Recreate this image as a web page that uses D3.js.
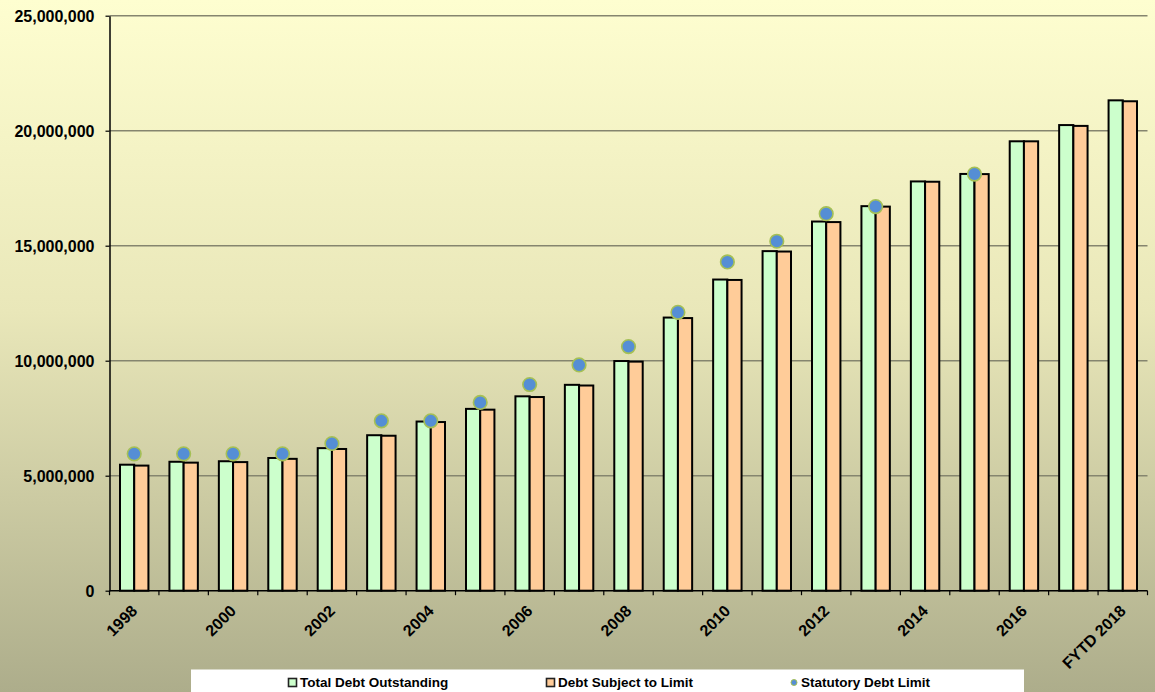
<!DOCTYPE html>
<html>
<head>
<meta charset="utf-8">
<script src="https://cdn.jsdelivr.net/npm/d3@7"></script>
<style>
  html, body { margin: 0; padding: 0; background: #fff; }
  svg { display: block; }
  text { font-family: "Liberation Sans", Arial, sans-serif; font-weight: bold; fill: #000; }
</style>
</head>
<body>
<svg id="chart" width="1155" height="692"></svg>
<script>
// ---- data (millions of dollars) ----
const categories = ["1998","1999","2000","2001","2002","2003","2004","2005","2006","2007",
  "2008","2009","2010","2011","2012","2013","2014","2015","2016","2017","FYTD 2018"];
const totalDebt = [5478189, 5605523, 5628700, 5769881, 6198401, 6760014, 7354657, 7905300,
  8451350, 8950744, 9986082, 11875851, 13528807, 14764222, 16050921, 16719434, 17794483,
  18120106, 19539450, 20244900, 21320000];
const subjectDebt = [5439447, 5567694, 5591625, 5732802, 6161431, 6737553, 7333350, 7871040,
  8420278, 8921343, 9959953, 11853313, 13510832, 14746567, 16027045, 16699396, 17781107,
  18112975, 19538462, 20208637, 21280000];
const statutoryLimit = [5950000, 5950000, 5950000, 5950000, 6400000, 7384000, 7384000, 8184000,
  8965000, 9815000, 10615000, 12104000, 14294000, 15194000, 16394000, 16699396, null,
  18113000, null, null, null];
const yTicks = [0, 5000000, 10000000, 15000000, 20000000, 25000000];
const seriesNames = ["Total Debt Outstanding", "Debt Subject to Limit", "Statutory Debt Limit"];

const W = 1155, H = 692;
const mLeft = 109.5, mRight = 1147.5, mTop = 15.7, mBottom = 590.7;

const svg = d3.select("#chart");
const defs = svg.append("defs");
const grad = defs.append("linearGradient").attr("id","bg").attr("x1",0).attr("y1",0).attr("x2",0).attr("y2",1);
grad.append("stop").attr("offset","0%").attr("stop-color","#FEFED0");
grad.append("stop").attr("offset","45%").attr("stop-color","#E9E7B9");
grad.append("stop").attr("offset","100%").attr("stop-color","#ADAD8B");
svg.append("rect").attr("width",W).attr("height",H).attr("fill","url(#bg)");

const x0 = d3.scaleBand().domain(categories).range([mLeft, mRight]).padding(0);
const bw = x0.bandwidth();
const x1 = d3.scaleBand().domain(["total","subject"]).range([bw*0.2125, bw*0.7875]).padding(0);
const y = d3.scaleLinear().domain([0, 25000000]).range([mBottom, mTop]);

// gridlines
svg.append("g").selectAll("line").data(yTicks.filter(d => d > 0)).join("line")
  .attr("x1", mLeft).attr("x2", mRight)
  .attr("y1", d => y(d)).attr("y2", d => y(d))
  .attr("stroke", "#85856f").attr("stroke-width", 1.5);

// bars
const groups = svg.append("g").selectAll("g").data(categories).join("g")
  .attr("transform", c => `translate(${x0(c)},0)`);
groups.append("rect")
  .attr("x", x1("total")).attr("width", x1.bandwidth())
  .attr("y", (c,i) => y(totalDebt[i])).attr("height", (c,i) => y(0) - y(totalDebt[i]))
  .attr("fill", "#CCFFCC").attr("stroke", "#000").attr("stroke-width", 2);
groups.append("rect")
  .attr("x", x1("subject")).attr("width", x1.bandwidth())
  .attr("y", (c,i) => y(subjectDebt[i])).attr("height", (c,i) => y(0) - y(subjectDebt[i]))
  .attr("fill", "#FFCC99").attr("stroke", "#000").attr("stroke-width", 2);

// dots
const dotData = categories.map((c,i) => ({c, v: statutoryLimit[i]})).filter(d => d.v != null);
svg.append("g").selectAll("circle").data(dotData).join("circle")
  .attr("cx", d => x0(d.c) + bw/2).attr("cy", d => y(d.v)).attr("r", 6.8)
  .attr("fill", "#558ED5").attr("stroke", "#A5C055").attr("stroke-width", 1.6);

// y axis
const yAxis = svg.append("g").attr("transform", `translate(${mLeft},0)`)
  .call(d3.axisLeft(y).tickValues(yTicks).tickFormat(d3.format(",")).tickSize(4).tickPadding(11).tickSizeOuter(0));
yAxis.select(".domain").attr("stroke", "#000").attr("stroke-width", 1.5);
yAxis.selectAll(".tick line").attr("stroke", "#000").attr("stroke-width", 1.2);
yAxis.selectAll(".tick text").attr("font-size", 16).attr("font-family", "Liberation Sans, Arial, sans-serif").attr("font-weight", "bold").attr("fill","#000").attr("dy","0.36em");

// x axis
const xg = svg.append("g");
xg.append("line").attr("x1", mLeft).attr("x2", mRight).attr("y1", mBottom).attr("y2", mBottom)
  .attr("stroke", "#000").attr("stroke-width", 1.5);
const boundaries = categories.map(c => x0(c)).concat([x0(categories[categories.length-1]) + bw]);
xg.selectAll("line.tk").data(boundaries).join("line").attr("class","tk")
  .attr("x1", d => d).attr("x2", d => d).attr("y1", mBottom).attr("y2", mBottom + 4.5)
  .attr("stroke", "#000").attr("stroke-width", 1.2);
xg.selectAll("text").data(categories.filter((c,i) => i % 2 === 0)).join("text")
  .attr("transform", c => `translate(${x0(c) + bw/2 + 4},612) rotate(-45)`)
  .attr("text-anchor", "end").attr("font-size", 16)
  .text(c => c);

// legend
const lg = svg.append("g");
lg.append("rect").attr("x", 191).attr("y", 669.5).attr("width", 833).attr("height", 30).attr("fill", "#fff");
const items = [
  {name: seriesNames[0], type: "sq", fill: "#CCFFCC", mx: 288.5, tx: 300},
  {name: seriesNames[1], type: "sq", fill: "#FFCC99", mx: 546.5, tx: 558},
  {name: seriesNames[2], type: "dot", fill: "#558ED5", mx: 794, tx: 801}
];
items.forEach(it => {
  if (it.type === "sq") {
    lg.append("rect").attr("x", it.mx).attr("y", 678.5).attr("width", 8).attr("height", 8)
      .attr("fill", it.fill).attr("stroke", "#222").attr("stroke-width", 1.6);
  } else {
    lg.append("circle").attr("cx", it.mx).attr("cy", 682.5).attr("r", 3)
      .attr("fill", it.fill).attr("stroke", "#A5C055").attr("stroke-width", 1);
  }
  lg.append("text").attr("x", it.tx).attr("y", 687).attr("font-size", 13.5).text(it.name);
});
</script>
</body>
</html>
